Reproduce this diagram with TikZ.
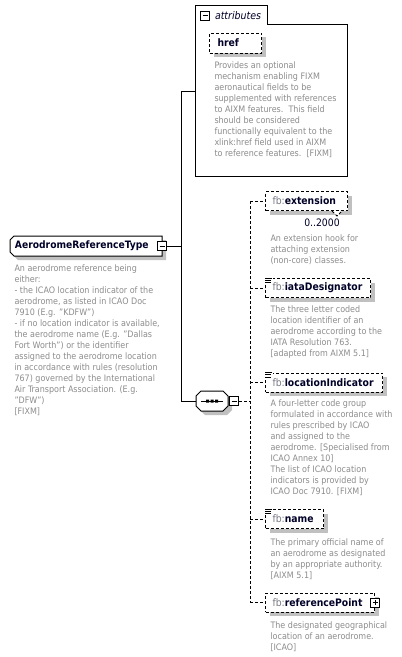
\documentclass[tikz,border=0pt]{standalone}
\usepackage{fontspec}
\setmainfont{DejaVu Sans Condensed}
\usetikzlibrary{shadows}
\definecolor{descgray}{RGB}{140,140,140}
\definecolor{pfxgray}{RGB}{120,120,130}
\definecolor{nmcol}{RGB}{0,0,40}
\definecolor{shgray}{RGB}{192,192,192}
\newcommand{\descfont}{\fontsize{8.9}{11}\selectfont}
\newcommand{\namefont}{\fontsize{10.3}{12}\selectfont}
\newcommand{\pfx}{\textcolor{pfxgray}{\mdseries fb:}}
\tikzset{scicon/.pic={\fill[white] (-1,-1.5) rectangle (8,6); \draw[line width=0.8pt,solid] (0,0) -- (7,0) (0,2.3) -- (6,2.3) (0,4.6) -- (6,4.6);}}
\begin{document}
\begin{tikzpicture}[x=1pt,y=-1pt,line width=1pt,
  dsh/.style={dash pattern=on 3pt off 2pt},
  desc/.style={anchor=north west,inner sep=0pt,align=left,text=descgray,font=\descfont},
  elembox/.style={draw,dsh,fill=white,text=nmcol,inner xsep=7pt,inner ysep=0pt,minimum height=19pt,anchor=west,font=\namefont,general shadow={fill=shgray,shadow xshift=4pt,shadow yshift=-4pt}},
  minusicon/.style={draw,solid,fill=white,minimum size=9pt,inner sep=0pt,line width=1pt,path picture={\draw[line width=1pt] ([xshift=2pt]path picture bounding box.west) -- ([xshift=-2pt]path picture bounding box.east);}},
  plusicon/.style={draw,solid,fill=white,minimum size=9pt,inner sep=0pt,line width=1pt,path picture={\draw[line width=1pt] ([xshift=2pt]path picture bounding box.west) -- ([xshift=-2pt]path picture bounding box.east) ([yshift=2pt]path picture bounding box.south) -- ([yshift=-2pt]path picture bounding box.north);}}
]
\useasboundingbox (0,0) rectangle (402,657);

% ---------- attributes
\draw[fill=white] (195,5) -- (267,5) -- (267,24) -- (347,24) -- (347,176) -- (195,176) -- cycle;
\node[minusicon] (attrm) at (205,15.5) {};
\node[anchor=west,inner sep=0pt,text=nmcol,font=\itshape\fontsize{10.5}{12}\selectfont] (attrl) at (214.5,15.5) {attributes};
\node[elembox,inner xsep=8pt,minimum width=52pt,minimum height=20pt] (href) at (209,43) {\makebox[36pt][l]{\textbf{href}}};
\node[desc] (hrefd) at (214,60) {\strut Provides an optional\\mechanism enabling FIXM\\aeronautical fields to be\\supplemented with references\\to AIXM features.\ \ This field\\should be considered\\functionally equivalent to the\\xlink:href field used in AIXM\\to reference features.\ \ {[FIXM]}};

% ---------- spine
\coordinate (s0) at (181,91);
\coordinate (s1) at (181,246);
\coordinate (s2) at (181,401);
\coordinate (attrL) at (195,91);
\draw (s0) -- (s2);
\draw (s0) -- (attrL);

% ---------- main type
\fill[shgray] (18,240) -- (166,240) -- (166,260) -- (18,260) -- (14,256) -- (14,244) -- cycle;
\draw[fill=white] (14,236) -- (162,236) -- (162,256) -- (14,256) -- (10,252) -- (10,240) -- cycle;
\node[inner xsep=5pt,inner ysep=0pt,minimum width=152pt,minimum height=20pt,text=nmcol,font=\bfseries\fontsize{10.2}{12}\selectfont] (art) at (86,246) {\makebox[142pt][l]{AerodromeReferenceType}};
\node[minusicon] (artm) at (162,246) {};
\draw (artm.east) -- (s1);
\node[desc] (artd) at (14,263) {\strut An aerodrome reference being\\either:\\- the ICAO location indicator of the\\aerodrome, as listed in ICAO Doc\\7910 (E.g. "KDFW")\\- if no location indicator is available,\\the aerodrome name (E.g. "Dallas\\Fort Worth") or the identifier\\assigned to the aerodrome location\\in accordance with rules (resolution\\767) governed by the International\\Air Transport Association. (E.g.\\"DFW")\\{[FIXM]}};

% ---------- sequence
\fill[shgray] (205,395) -- (227,395) -- (232,400) -- (232,410) -- (227,415) -- (205,415) -- (200,410) -- (200,400) -- cycle;
\draw[fill=white] (201,391) -- (223,391) -- (228,396) -- (228,406) -- (223,411) -- (201,411) -- (196,406) -- (196,396) -- cycle;
\node[minimum width=32pt,minimum height=20pt,inner sep=0pt] (seq) at (212,401) {};
\draw (201,401) -- (223,401);
\fill (206,399.5) rectangle (209,402.5) (210.5,399.5) rectangle (213.5,402.5) (215,399.5) rectangle (218,402.5);
\draw (s2) -- (seq.west);
\node[minusicon] (seqm) at (234,401) {};
\coordinate (dq) at (250,401);
\draw[dsh] (seqm.east) -- (dq);

% ---------- dashed spine
\coordinate (d1) at (250,201);
\coordinate (d5) at (250,602.5);
\draw[dsh] (d1) -- (d5);

% ---------- elements
\node[elembox,minimum width=82pt] (ext) at (265,201) {\makebox[68pt][l]{\pfx\textbf{extension}}};
\fill[white] ([xshift=-16pt]ext.south east) -- ([xshift=-11pt,yshift=-5pt]ext.south east) -- ([xshift=-6pt]ext.south east) -- cycle;
\draw[dsh,line width=0.8pt] ([xshift=-16pt]ext.south east) -- ([xshift=-11pt,yshift=-5pt]ext.south east) -- ([xshift=-6pt]ext.south east);
\node[font=\namefont,text=nmcol,inner sep=0pt] (extm) at (322,222.5) {0..2000};
\node[desc] (extd) at (270,233) {\strut An extension hook for\\attaching extension\\(non-core) classes.};
\draw[dsh] (d1) -- (ext.west);

\node[elembox,minimum width=105pt] (iata) at (265,288) {\makebox[91pt][l]{\pfx\textbf{iataDesignator}}};
\pic at (iata.north west) {scicon};
\node[desc] (iatad) at (270,304) {\strut The three letter coded\\location identifier of an\\aerodrome according to the\\IATA Resolution 763.\\{[adapted from AIXM 5.1]}};
\draw[dsh] (iata.west -| d1) -- (iata.west);

\node[elembox,minimum width=117pt] (loc) at (265,382.5) {\makebox[103pt][l]{\pfx\textbf{locationIndicator}}};
\pic at (loc.north west) {scicon};
\node[desc] (locd) at (270,398) {\strut A four-letter code group\\formulated in accordance with\\rules prescribed by ICAO\\and assigned to the\\aerodrome. [Specialised from\\ICAO Annex 10]\\The list of ICAO location\\indicators is provided by\\ICAO Doc 7910. [FIXM]};
\draw[dsh] (loc.west -| d1) -- (loc.west);

\node[elembox,minimum width=58pt] (nm) at (265,519) {\makebox[44pt][l]{\pfx\textbf{name}}};
\pic at (nm.north west) {scicon};
\node[desc] (nmd) at (270,537) {\strut The primary official name of\\an aerodrome as designated\\by an appropriate authority.\\{[AIXM 5.1]}};
\draw[dsh] (nm.west -| d1) -- (nm.west);

\node[elembox,minimum width=109pt] (rp) at (265,602.5) {\makebox[95pt][l]{\pfx\textbf{referencePoint}}};
\node[plusicon] (rpp) at (rp.east) {};
\node[desc] (rpd) at (270,620) {\strut The designated geographical\\location of an aerodrome.\\{[ICAO]}};
\draw[dsh] (d5) -- (rp.west);
\end{tikzpicture}
\end{document}
